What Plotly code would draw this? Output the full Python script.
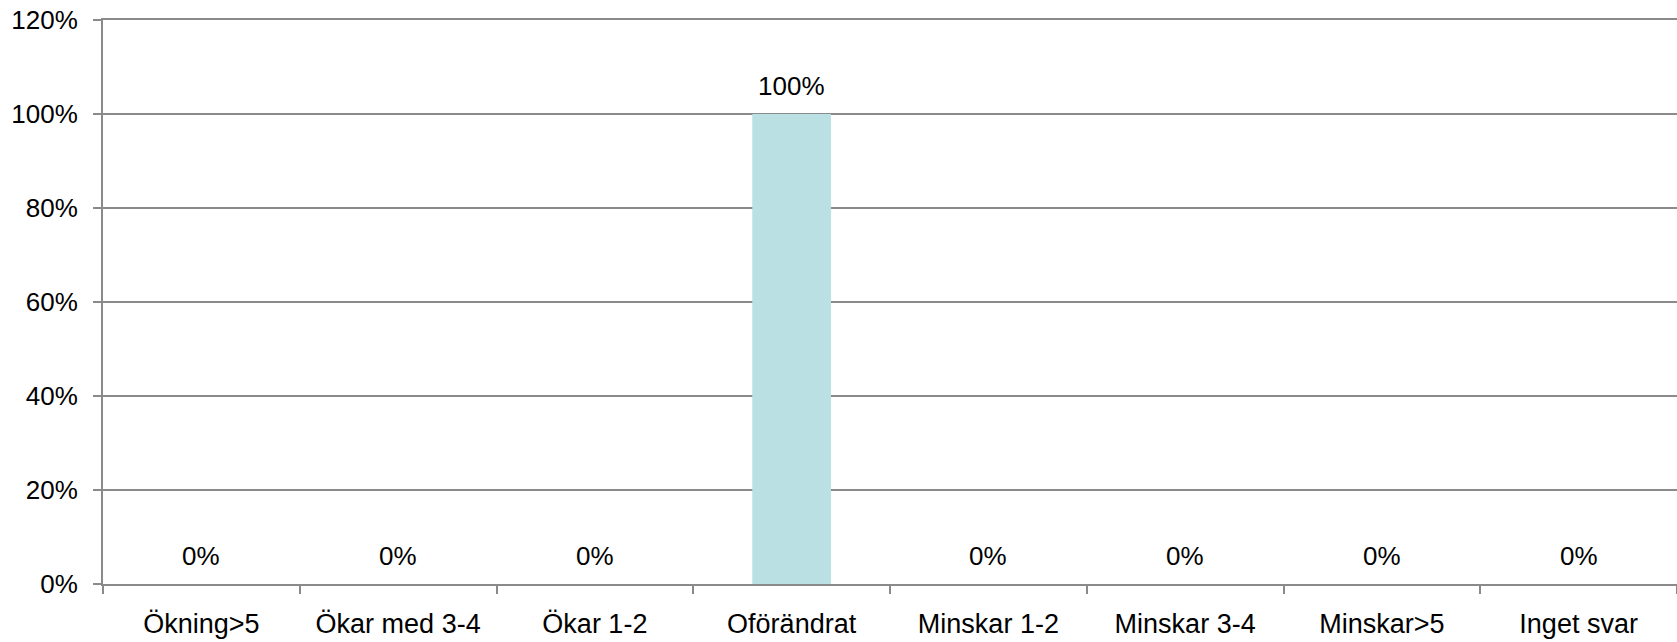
import plotly.graph_objects as go

# chart data
categories = ["Ökning>5", "Ökar med 3-4", "Ökar 1-2", "Oförändrat",
              "Minskar 1-2", "Minskar 3-4", "Minskar>5", "Inget svar"]
shares = [0, 0, 0, 100, 0, 0, 0, 0]
y_ticks = [0, 20, 40, 60, 80, 100, 120]

font_family = "Liberation Sans, Arial, Helvetica, sans-serif"
grey = "#8a8a8a"

fig = go.Figure()
fig.add_trace(go.Bar(
    x=categories,
    y=shares,
    width=0.4,
    marker=dict(color="#bae0e4", line=dict(width=0)),
    hoverinfo="x+y",
))

# value labels above each bar
for cat, val in zip(categories, shares):
    fig.add_annotation(
        x=cat, y=val, text=f"{val}%",
        showarrow=False, yanchor="bottom", yshift=11,
        font=dict(size=26, color="black", family=font_family),
    )

fig.update_layout(
    width=1677,
    height=642,
    margin=dict(l=103, r=0, t=20, b=58),
    paper_bgcolor="white",
    plot_bgcolor="white",
    showlegend=False,
    font=dict(family=font_family, size=26, color="black"),
)

# mirror=True gives the top border line at 120% (plotly skips that gridline)
fig.update_xaxes(
    type="category",
    showgrid=False,
    showline=True, linecolor=grey, linewidth=2, mirror=True,
    ticks="outside", tickson="boundaries", ticklen=8, tickcolor=grey, tickwidth=2,
    ticklabelstandoff=15,
    tickfont=dict(size=27, color="black"),
)
fig.update_yaxes(
    range=[0, 120],
    tickvals=y_ticks,
    ticktext=[f"{v}%" for v in y_ticks],
    showgrid=True, gridcolor=grey, gridwidth=2,
    showline=True, linecolor=grey, linewidth=2,
    ticks="outside", ticklen=8, tickcolor=grey, tickwidth=2,
    ticklabelstandoff=10,
    zeroline=False,
    tickfont=dict(size=26, color="black"),
)

# drop the default body margin so the figure fills the window exactly
fig.write_html(
    "out.html",
    config={"displayModeBar": False},
    post_script="document.body.style.margin='0';",
)
